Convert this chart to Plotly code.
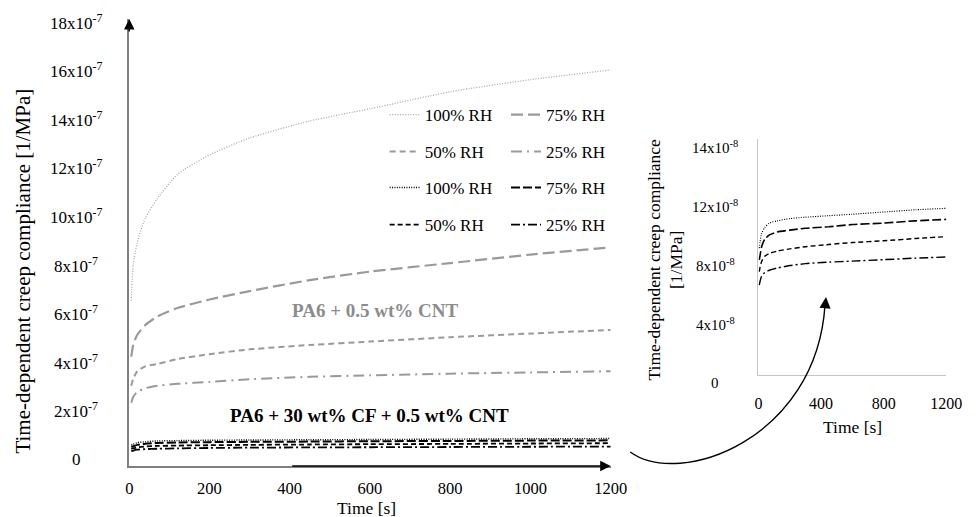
import plotly.graph_objects as go

# ---------------- data ----------------
time_s = [5, 10, 20, 40, 70, 120, 200, 300, 450, 600, 800, 1000, 1200]

# PA6 + 0.5 wt% CNT  (x1e-7 1/MPa)
cnt_100 = [6.8, 8.3, 9.2, 10.2, 11.0, 12.0, 12.8, 13.5, 14.2, 14.7, 15.4, 15.9, 16.3]
cnt_75 = [4.5, 5.0, 5.4, 5.8, 6.15, 6.5, 6.85, 7.2, 7.65, 8.0, 8.35, 8.7, 9.0]
cnt_50 = [3.3, 3.6, 3.9, 4.1, 4.2, 4.4, 4.6, 4.8, 4.98, 5.12, 5.3, 5.45, 5.6]
cnt_25 = [2.6, 2.85, 3.05, 3.2, 3.3, 3.38, 3.46, 3.57, 3.67, 3.73, 3.8, 3.85, 3.9]

# PA6 + 30 wt% CF + 0.5 wt% CNT  (x1e-8 1/MPa)
cf_100 = [8.6, 9.0, 9.6, 10.0, 10.3, 10.45, 10.6, 10.7, 10.8, 10.9, 11.05, 11.2, 11.3]
cf_75 = [7.8, 8.1, 8.7, 9.2, 9.5, 9.7, 9.82, 9.95, 10.05, 10.2, 10.3, 10.45, 10.55]
cf_50 = [7.0, 7.3, 7.7, 8.05, 8.25, 8.4, 8.55, 8.7, 8.85, 8.98, 9.1, 9.25, 9.38]
cf_25 = [6.1, 6.35, 6.7, 6.95, 7.1, 7.25, 7.42, 7.55, 7.65, 7.72, 7.82, 7.92, 8.0]

labels = ["100% RH", "75% RH", "50% RH", "25% RH"]

main_yticks = [0, 2, 4, 6, 8, 10, 12, 14, 16, 18]          # x1e-7
main_yticktext = ["0"] + [f"{v}x10<sup>-7</sup>" for v in main_yticks[1:]]
main_xticks = [0, 200, 400, 600, 800, 1000, 1200]

inset_yticks = [0, 4, 8, 12, 16]                             # x1e-8
inset_yticktext = ["0", "4x10<sup>-8</sup>", "8x10<sup>-8</sup>",
                   "12x10<sup>-8</sup>", "14x10<sup>-8</sup>"]
inset_xticks = [0, 400, 800, 1200]

# ---------------- styles ----------------
W, H = 980, 517
FONT = "Liberation Serif"
GRAY = "#9a9a9a"
gray_styles = [
    dict(color="#a8a8a8", width=1.3, dash="1px,1.6px"),
    dict(color=GRAY, width=2.2, dash="12px,5px"),
    dict(color=GRAY, width=2.0, dash="6px,4px"),
    dict(color=GRAY, width=2.0, dash="11px,5px,2px,5px"),
]
black_styles = [
    dict(color="black", width=1.4, dash="1px,1.4px"),
    dict(color="black", width=2.0, dash="9px,3px"),
    dict(color="black", width=1.8, dash="5px,3px"),
    dict(color="black", width=1.8, dash="9px,3px,2px,3px"),
]


def px(x):
    return x / W


def py(y):
    return 1 - y / H


fig = go.Figure()

cnt_series = [cnt_100, cnt_75, cnt_50, cnt_25]
cf_series = [cf_100, cf_75, cf_50, cf_25]

legend_ids = ["legend", "legend2", "legend3", "legend4",
              "legend5", "legend6", "legend7", "legend8"]

for i, (s, st) in enumerate(zip(cnt_series, gray_styles)):
    fig.add_trace(go.Scatter(
        x=time_s, y=[v * 1e-7 for v in s], mode="lines", name=labels[i],
        line=dict(shape="spline", smoothing=0.6, **st),
        legend=legend_ids[i], xaxis="x", yaxis="y"))

for i, (s, st) in enumerate(zip(cf_series, black_styles)):
    fig.add_trace(go.Scatter(
        x=time_s, y=[v * 1e-8 for v in s], mode="lines", name=labels[i],
        line=dict(shape="spline", smoothing=0.6, **st),
        legend=legend_ids[4 + i], xaxis="x", yaxis="y"))

for i, (s, st) in enumerate(zip(cf_series, black_styles)):
    st2 = dict(st)
    st2["width"] = st["width"] * 0.8
    fig.add_trace(go.Scatter(
        x=time_s, y=[v * 1e-8 for v in s], mode="lines", name=labels[i],
        line=dict(shape="spline", smoothing=0.6, **st2),
        showlegend=False, xaxis="x2", yaxis="y2"))

# ---------------- legends ----------------
leg_rows = [115, 152, 188, 225]
leg_cols = [389, 513]
legends = {}
for k, lid in enumerate(legend_ids):
    row = k // 2
    col = k % 2
    legends[lid] = dict(
        x=px(leg_cols[col]), y=py(leg_rows[row]), xanchor="left", yanchor="middle",
        bgcolor="rgba(0,0,0,0)", borderwidth=0,
        font=dict(family=FONT, size=17, color="black"),
        tracegroupgap=0, itemwidth=30)

# ---------------- axes ----------------
main_x0, main_x1 = 128, 620
main_y0, main_top = 466, 18.9
inset_x0, inset_x1 = 771, 963
inset_y0, inset_top = 375, 139

layout = dict(
    width=W, height=H,
    margin=dict(l=0, r=0, t=0, b=0),
    paper_bgcolor="white", plot_bgcolor="white",
    showlegend=True,
    font=dict(family=FONT, size=16, color="black"),
    xaxis=dict(domain=[px(main_x0), px(main_x1)], range=[0, 1200],
               showgrid=False, zeroline=False, showline=True,
               linecolor="#808080", linewidth=1.6, ticks="",
               tickvals=main_xticks, tickfont=dict(family=FONT, size=16.5),
               ticklabelstandoff=6, anchor="y"),
    yaxis=dict(domain=[py(main_y0), py(main_top)], range=[0, 18.4e-7],
               showgrid=False, zeroline=False, showline=True,
               linecolor="#808080", linewidth=1.6, ticks="",
               showticklabels=False, anchor="x"),
    xaxis2=dict(domain=[px(inset_x0), px(inset_x1)], range=[0, 1200],
                showgrid=False, zeroline=False, showline=True,
                linecolor="#c4c4c4", linewidth=1, ticks="",
                tickvals=inset_xticks, tickfont=dict(family=FONT, size=16),
                ticklabelstandoff=14, anchor="y2"),
    yaxis2=dict(domain=[py(inset_y0), py(inset_top)], range=[0, 16e-8],
                showgrid=False, zeroline=False, showline=True,
                linecolor="#c4c4c4", linewidth=1, ticks="",
                showticklabels=False, anchor="x2"),
)
layout.update(legends)
fig.update_layout(**layout)

ann = []
for v, t in zip(main_yticks, main_yticktext):
    ann.append(dict(x=px(74), xref="paper", y=v * 1e-7, yref="y", yshift=7,
                    text=t, showarrow=False, xanchor="center", yanchor="middle",
                    font=dict(family=FONT, size=17, color="black")))
for v, t in zip(inset_yticks, inset_yticktext):
    ann.append(dict(x=px(727), xref="paper", y=v * 1e-8, yref="y2", yshift=-8,
                    text=t, showarrow=False, xanchor="center", yanchor="middle",
                    font=dict(family=FONT, size=15, color="black")))


def label(x, y, text, size, color="black", angle=0):
    return dict(x=px(x), y=py(y), xref="paper", yref="paper", text=text,
                showarrow=False, xanchor="center", yanchor="middle",
                textangle=angle, font=dict(family=FONT, size=size, color=color))


# axis titles
ann.append(label(370, 508, "Time [s]", 17.5))
ann.append(label(19, 271, "Time-dependent creep compliance [1/MPa]", 21, angle=-90))
ann.append(label(867, 427, "Time [s]", 17.5))
ann.append(label(675, 260, "Time-dependent creep compliance<br>[1/MPa]", 17.5, angle=-90))

# group labels
ann.append(label(379, 310, "<b>PA6 + 0.5 wt% CNT</b>", 19, "#8c8c8c"))
ann.append(label(373, 415, "<b>PA6 + 30 wt% CF + 0.5 wt% CNT</b>", 19))

# axis arrows
ann.append(dict(x=0, y=18.4e-7, xref="x", yref="y", ax=0, ay=14, text="",
                showarrow=True, arrowhead=2, arrowsize=1.4, arrowwidth=1.5,
                arrowcolor="black", standoff=0))
ann.append(dict(x=1200, y=0, xref="x", yref="y", ax=-(620 - 300), ay=0, text="",
                showarrow=True, arrowhead=2, arrowsize=1.4, arrowwidth=1.5,
                arrowcolor="black", standoff=0))
# curved arrow head
ann.append(dict(x=px(840), y=py(297), xref="paper", yref="paper", ax=-1, ay=12,
                text="", showarrow=True, arrowhead=2, arrowsize=1.6,
                arrowwidth=1.4, arrowcolor="black", standoff=0))

fig.update_layout(annotations=ann)

p0, p1, p2, p3 = (640, 452), (690, 488), (830, 440), (839, 305)
path = (f"M {px(p0[0])},{py(p0[1])} C {px(p1[0])},{py(p1[1])} "
        f"{px(p2[0])},{py(p2[1])} {px(p3[0])},{py(p3[1])}")
fig.add_shape(type="path", path=path, xref="paper", yref="paper",
              line=dict(color="black", width=1.4))

fig.write_html("out.html")
